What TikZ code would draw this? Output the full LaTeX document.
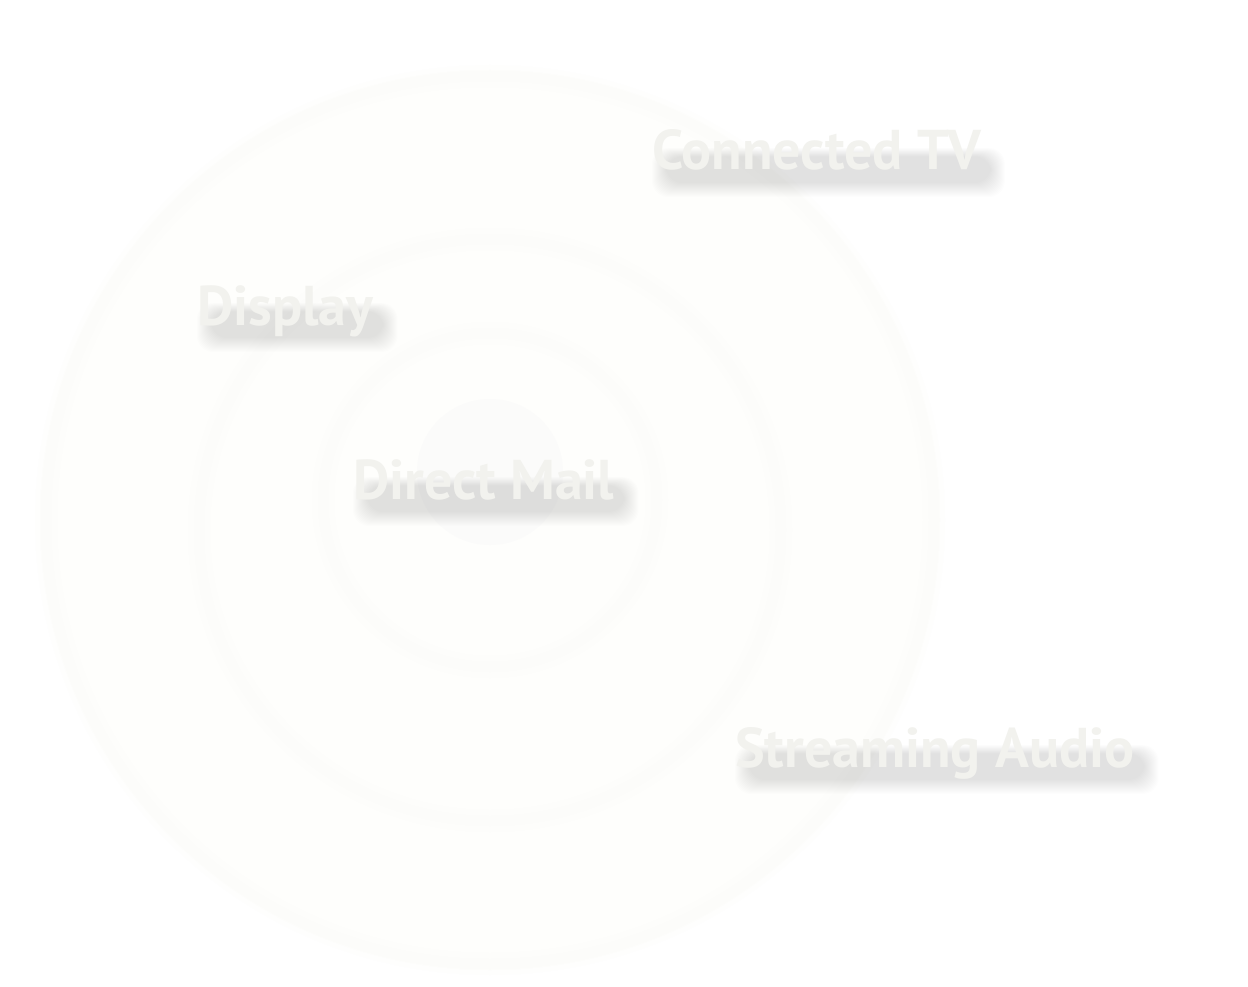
\documentclass[tikz,border=0pt]{standalone}
\usepackage{fontspec}
\setmainfont{PT Sans}
\usetikzlibrary{calc}
\pgfdeclarelayer{back}
\pgfdeclarelayer{mid}
\pgfsetlayers{back,mid,main}
\definecolor{bgwhite}{HTML}{FFFFFF}
\definecolor{ringfill}{HTML}{FEFEFC}
\definecolor{ringedge}{HTML}{F6F6EE}
\definecolor{corefill}{HTML}{FBFBFA}
\definecolor{labelcol}{HTML}{F2F2EE}
\tikzset{
  labeltext/.style={text=labelcol, font=\bfseries\fontsize{56}{60}\selectfont, inner sep=0pt, anchor=base west},
  shadowlayer/.style={fill=black, opacity=0.009, rounded corners=16pt},
  ringsoft/.style={draw=ringedge, line width=#1, opacity=0.07},
}
\newcommand{\shadowlabel}[3]{%
  \node[labeltext] (#1) at (#2) {#3};%
  \begin{pgfonlayer}{mid}%
  \foreach \k in {0,...,14}{%
    \path[shadowlayer] ($(#1.base west)+(0+\k,-22+\k*0.6)$) rectangle ($(#1.base east)+(24-\k,27-\k)$);}%
  \end{pgfonlayer}%
}
\begin{document}
\begin{tikzpicture}[x=1pt,y=-1pt]
\begin{pgfonlayer}{back}
\useasboundingbox[fill=bgwhite] (0,0) rectangle (1248,987);
% rings
\foreach \cx/\cy/\r in {490/520/450, 490/530/297, 490/500/173}{
  \fill[ringfill] (\cx,\cy) circle[radius=\r];
  \draw[ringsoft=22pt] (\cx,\cy) circle[radius=\r-6];
  \draw[ringsoft=10pt] (\cx,\cy) circle[radius=\r-6];
}
\fill[corefill] (490,472) circle[radius=73];
\end{pgfonlayer}
% labels
\coordinate (pctv) at (652,170);
\coordinate (pdisp) at (197,325);
\coordinate (pdm) at (353,499);
\coordinate (psa) at (735,767);
\shadowlabel{ctv}{pctv}{Connected TV}
\shadowlabel{disp}{pdisp}{Display}
\shadowlabel{dm}{pdm}{Direct Mail}
\shadowlabel{sa}{psa}{Streaming Audio}
\end{tikzpicture}
\end{document}
